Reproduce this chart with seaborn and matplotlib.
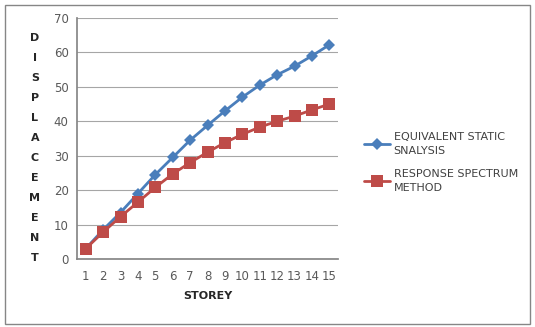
import numpy as np
import pandas as pd
import matplotlib
matplotlib.use("Agg")
import matplotlib.pyplot as plt
import seaborn as sns

storey = list(range(1, 16))
equivalent_static = [3.0, 8.5, 13.5, 19.0, 24.5, 29.5, 34.5, 38.8, 43.0, 47.0, 50.5, 53.5, 56.0, 59.0, 62.2]
response_spectrum = [3.0, 7.8, 12.3, 16.5, 20.8, 24.7, 28.0, 31.0, 33.8, 36.2, 38.3, 40.0, 41.5, 43.3, 45.0]
series_names = ["EQUIVALENT STATIC\nSNALYSIS", "RESPONSE SPECTRUM\nMETHOD"]

df = pd.concat([
    pd.DataFrame({"storey": storey, "disp": equivalent_static, "series": series_names[0]}),
    pd.DataFrame({"storey": storey, "disp": response_spectrum, "series": series_names[1]}),
])
# categorical positions like Excel line chart
df["pos"] = df["storey"] - 1

sns.set_theme(style="white")
plt.rcParams["font.family"] = ["DejaVu Sans"]

fig = plt.figure(figsize=(5.35, 3.27), dpi=100)
ax = fig.add_axes([77 / 535, 1 - 259 / 327, (338 - 77) / 535, (259 - 18) / 327])

palette = {series_names[0]: "#4a7ebb", series_names[1]: "#be4b48"}
markers = {series_names[0]: "D", series_names[1]: "s"}
sizes = {series_names[0]: 6, series_names[1]: 8}
for name in series_names:
    sub = df[df["series"] == name]
    sns.lineplot(data=sub, x="pos", y="disp", ax=ax, color=palette[name],
                 marker=markers[name], markersize=sizes[name], linewidth=2,
                 markeredgewidth=0, label=name)

ax.set_xlim(-0.5, 14.5)
ax.set_ylim(0, 70)
ax.set_yticks(range(0, 71, 10))
ax.set_xticks(range(15))
ax.set_xticklabels([str(s) for s in storey])
ax.grid(axis="y", color="#a6a6a6", linewidth=0.8)
ax.set_axisbelow(True)
for side in ["top", "right"]:
    ax.spines[side].set_visible(False)
ax.spines["left"].set_color("#868686")
ax.spines["bottom"].set_color("#868686")
ax.tick_params(axis="both", labelsize=8.5, colors="#595959", length=0, pad=6)
ax.tick_params(axis="x", pad=8)
# minor ticks between categories on x axis
ax.set_xticks(np.arange(-0.5, 15, 1), minor=True)
ax.tick_params(axis="x", which="minor", length=4, color="#868686", direction="out")

ax.set_xlabel("STOREY", fontsize=8, fontweight="bold", color="#262626", labelpad=6)
ax.set_ylabel("")
fig.text(35 / 535, 1 - 148 / 327, "\n".join("DISPLACEMENT"), ha="center", va="center",
         fontsize=8, fontweight="bold", color="#262626", linespacing=2.25)

leg = ax.legend(loc="center left", bbox_to_anchor=(1.06, 0.4), frameon=False,
                fontsize=8, labelcolor="#404040", handlelength=2.4, labelspacing=1.2,
                handletextpad=0.3)
for t in leg.get_texts():
    t.set_linespacing(1.5)

border = plt.Rectangle((0.01, 0.01), 0.98, 0.975, transform=fig.transFigure,
                       fill=False, edgecolor="#868686", linewidth=1)
fig.patches.append(border)

fig.savefig("out.png", dpi=100)
